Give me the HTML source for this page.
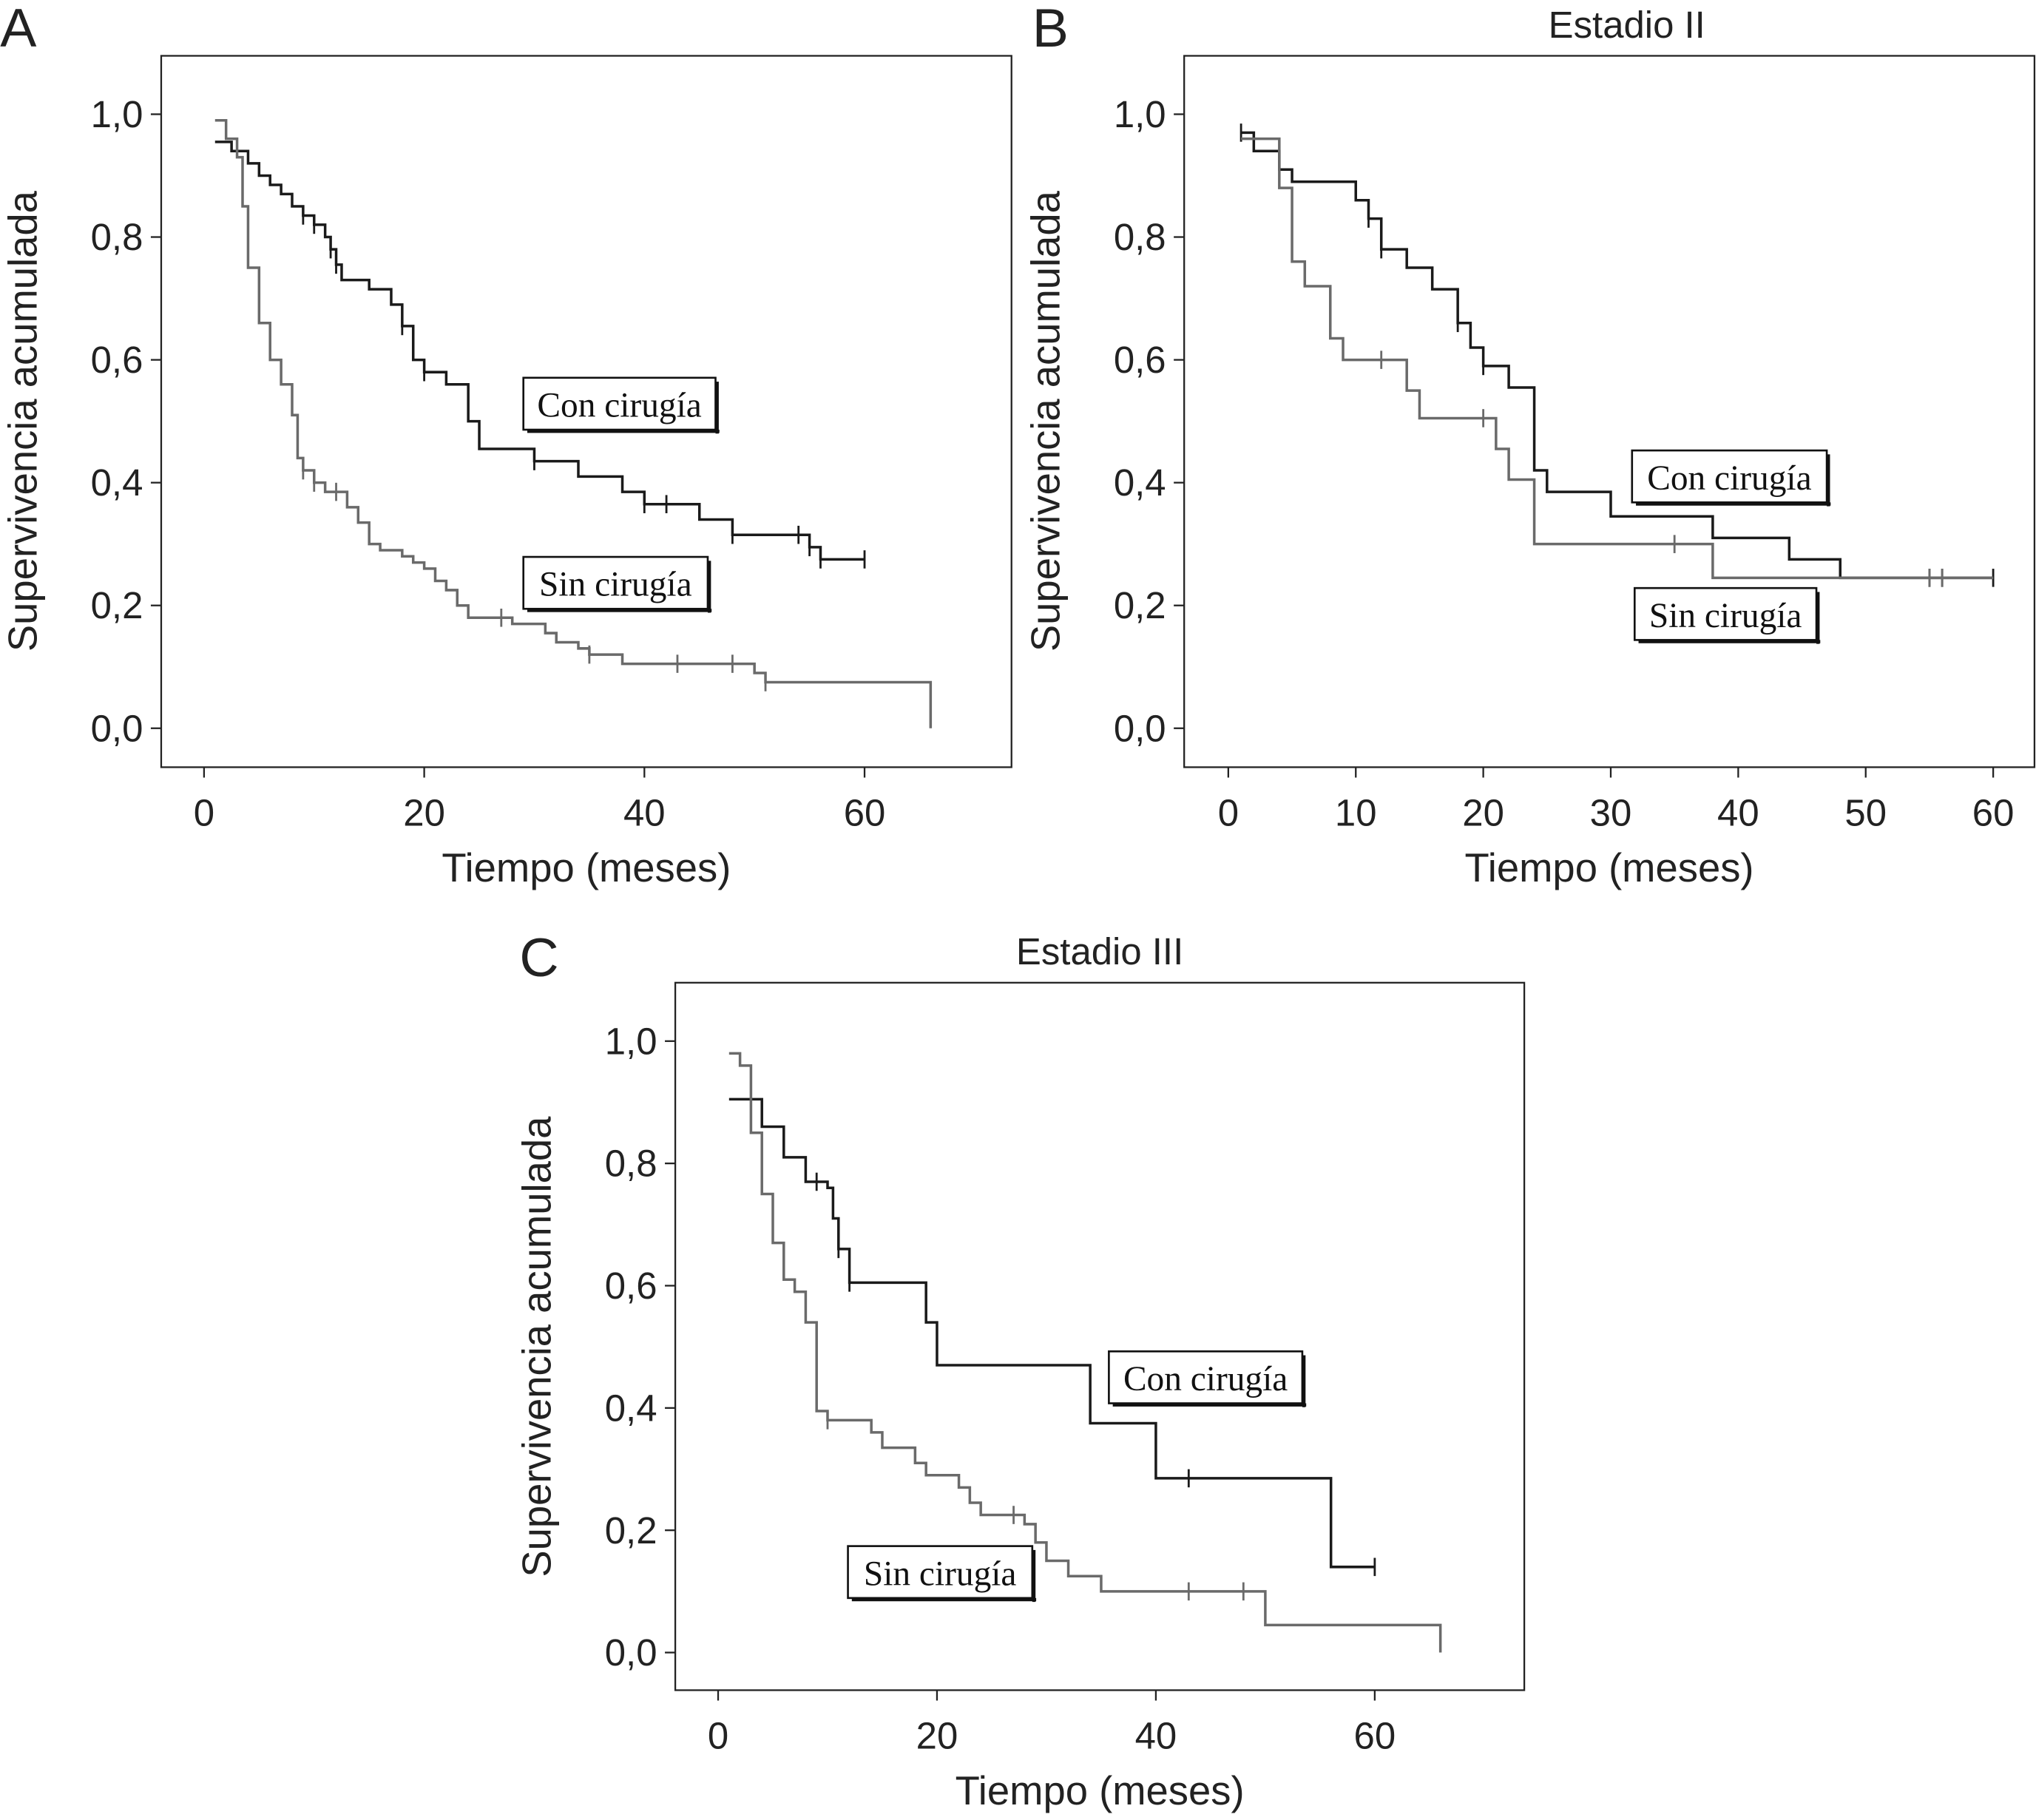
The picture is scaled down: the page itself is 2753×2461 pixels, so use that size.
<!DOCTYPE html>
<html><head><meta charset="utf-8">
<style>
html,body{margin:0;padding:0;background:#fff;}
svg{display:block;}
text{font-family:"Liberation Sans",sans-serif;}
.lbl{font-family:"Liberation Serif",serif;font-size:27px;}
</style></head>
<body>
<svg id="chart" width="2753" height="2461" viewBox="0 0 1568 1402" xmlns="http://www.w3.org/2000/svg"></svg>
<script>
// Panel A data
const aConT=[1,2.5,4,5,6,7,8,9,10,11,11.5,12,12.5,15,17,18,19,20,22,24,25,30,34,38,40,45,48,55,56];
const aConS=[0.955,0.94,0.92,0.9,0.885,0.87,0.85,0.835,0.82,0.8,0.78,0.755,0.73,0.715,0.69,0.655,0.6,0.58,0.56,0.5,0.455,0.435,0.41,0.385,0.365,0.34,0.315,0.295,0.275];
const aConEnd=60;
const aConCens=[9,10,11.5,12,18,20,30,40,42,48,54,55,56,60];
const aSinT=[1,2,3,3.5,4,5,6,7,8,8.5,9,10,11,13,14,15,16,18,19,20,21,22,23,24,28,31,32,34,35,38,50,51];
const aSinS=[0.99,0.96,0.93,0.85,0.75,0.66,0.6,0.56,0.51,0.44,0.42,0.4,0.385,0.36,0.335,0.3,0.29,0.28,0.27,0.26,0.24,0.225,0.2,0.18,0.17,0.155,0.14,0.13,0.12,0.105,0.09,0.075];
const aSinEnd=66;
const aSinCens=[9,10,12,27,35,43,48,51];
// Panel B data
const bConT=[1,2,4,5,10,11,12,14,16,18,19,20,22,24,25,30,38,44,48];
const bConS=[0.97,0.94,0.91,0.89,0.86,0.83,0.78,0.75,0.715,0.66,0.62,0.59,0.555,0.42,0.385,0.345,0.31,0.275,0.245];
const bConEnd=60;
const bConCens=[1,11,12,18,20,55,56,60];
const bSinT=[1,4,5,6,8,9,14,15,21,22,24,38];
const bSinS=[0.96,0.88,0.76,0.72,0.635,0.6,0.55,0.505,0.455,0.405,0.3,0.245];
const bSinEnd=60;
const bSinCens=[12,20,35,55,56];
// Panel C data
const cConT=[1,4,6,8,10,10.5,11,12,19,20,34,40,56];
const cConS=[0.905,0.86,0.81,0.77,0.76,0.71,0.66,0.605,0.54,0.47,0.375,0.285,0.14];
const cConEnd=60;
const cConCens=[9,11,12,43,60];
const cSinT=[1,2,3,4,5,6,7,8,9,10,14,15,18,19,22,23,24,28,29,30,32,35,50];
const cSinS=[0.98,0.96,0.85,0.75,0.67,0.61,0.59,0.54,0.395,0.38,0.36,0.335,0.31,0.29,0.27,0.245,0.225,0.21,0.18,0.15,0.125,0.1,0.045];
const cSinEnd=66;
const cSinCens=[10,27,43,48];
const yTicks=[0,0.2,0.4,0.6,0.8,1.0];
const yTickLabels=["0,0","0,2","0,4","0,6","0,8","1,0"];
const abTicks=[0,20,40,60];
const bTicks=[0,10,20,30,40,50,60];

const NS="http://www.w3.org/2000/svg";
const svg=document.getElementById('chart');
function mk(tag,attrs,parent){const e=document.createElementNS(NS,tag);for(const k in attrs)e.setAttribute(k,attrs[k]);(parent||svg).appendChild(e);return e;}

function panel(p){
  const g=mk('g',{});
  
  
  const X=t=>p.x0+(t)*p.xs, Y=s=>p.y0-s*p.ys;
  const f=mk('rect',{x:p.fx,y:p.fy,width:p.fw,height:p.fh,fill:'none',stroke:'#222','stroke-width':1.3},g);
  
  yTicks.forEach((v,i)=>{
    mk('line',{x1:p.fx-8,x2:p.fx,y1:Y(v),y2:Y(v),stroke:'#222','stroke-width':1.3},g);
    const t=mk('text',{x:p.fx-14,y:Y(v)+10,'text-anchor':'end','font-size':29,fill:'#222'},g);
    t.textContent=yTickLabels[i];
    
  });
  p.xticks.forEach(v=>{
    mk('line',{x1:X(v),x2:X(v),y1:p.fy+p.fh,y2:p.fy+p.fh+8,stroke:'#222','stroke-width':1.3},g);
    const t=mk('text',{x:X(v),y:p.fy+p.fh+45,'text-anchor':'middle','font-size':29,fill:'#222'},g);
    t.textContent=v;
    
  });
  const xt=mk('text',{x:p.fx+p.fw/2,y:p.fy+p.fh+88,'text-anchor':'middle','font-size':31,fill:'#222'},g);
  xt.textContent='Tiempo (meses)';
  const cy=p.fy+p.fh/2-p.fh*0.08;
  const yt=mk('text',{x:0,y:0,'text-anchor':'middle','font-size':31,fill:'#222',transform:`translate(${p.fx-96},${Y(0.5)}) rotate(-90)`},g);
  yt.textContent='Supervivencia acumulada';
  if(p.title){const tt=mk('text',{x:p.titleX,y:p.fy-14,'text-anchor':'middle','font-size':29,fill:'#222'},g);tt.textContent=p.title;}
  const L=mk('text',{x:p.letterX,y:p.letterY,'font-size':42,fill:'#222'},g);L.textContent=p.letter;
  p.series.forEach(s=>{
    let d=`M${X(s.T[0])},${Y(s.S[0])}`;
    for(let i=1;i<s.T.length;i++){d+=`H${X(s.T[i])}V${Y(s.S[i])}`;}
    d+=`H${X(s.end)}`;
    if(s.drop)d+=`V${Y(0)}`;
    const pa=mk('path',{d,fill:'none',stroke:s.color,'stroke-width':2},g);
    
    s.cens.forEach(c=>{
      let v=s.S[0];for(let i=0;i<s.T.length;i++){if(s.T[i]<=c)v=s.S[i];}
      const m=mk('line',{x1:X(c),x2:X(c),y1:Y(v)-7,y2:Y(v)+7,stroke:s.color,'stroke-width':1.6},g);
      
    });
    const lb=mk('g',{},g);
    mk('rect',{x:s.lx,y:s.ly,width:s.lw,height:40,fill:'#fff',stroke:'#111','stroke-width':1.5},lb);
    mk('rect',{x:s.lx+s.lw,y:s.ly+3,width:2.5,height:40,fill:'#111'},lb);
    mk('rect',{x:s.lx+3,y:s.ly+40,width:s.lw,height:2.5,fill:'#111'},lb);
    const tx=mk('text',{x:s.lx+s.lw/2,y:s.ly+30,'text-anchor':'middle',class:'lbl',fill:'#111'},lb);
    tx.textContent=s.label;
  });
}
panel({name:'panel-a',letter:'A',letterX:0,letterY:36,fx:124,fy:43,fw:655,fh:548,x0:157,xs:8.48,y0:561,ys:473,xticks:abTicks,
  series:[
   {name:'con-cirugia',color:'#1a1a1a',T:aConT,S:aConS,end:aConEnd,cens:aConCens,drop:false,label:'Con cirugía',lx:403,ly:291,lw:148},
   {name:'sin-cirugia',color:'#6a6a6a',T:aSinT,S:aSinS,end:aSinEnd,cens:aSinCens,drop:true,label:'Sin cirugía',lx:403,ly:429,lw:142}]});
panel({name:'panel-b',letter:'B',letterX:795,letterY:36,title:'Estadio II',titleX:1253,fx:912,fy:43,fw:655,fh:548,x0:946,xs:9.82,y0:561,ys:473,xticks:bTicks,
  series:[
   {name:'con-cirugia',color:'#1a1a1a',T:bConT,S:bConS,end:bConEnd,cens:bConCens,drop:false,label:'Con cirugía',lx:1257,ly:347,lw:150},
   {name:'sin-cirugia',color:'#6a6a6a',T:bSinT,S:bSinS,end:bSinEnd,cens:bSinCens,drop:false,label:'Sin cirugía',lx:1259,ly:453,lw:140}]});
panel({name:'panel-c',letter:'C',letterX:400,letterY:752,title:'Estadio III',titleX:847,fx:520,fy:757,fw:654,fh:545,x0:553,xs:8.43,y0:1273,ys:471,xticks:abTicks,
  series:[
   {name:'con-cirugia',color:'#1a1a1a',T:cConT,S:cConS,end:cConEnd,cens:cConCens,drop:false,label:'Con cirugía',lx:854,ly:1041,lw:149},
   {name:'sin-cirugia',color:'#6a6a6a',T:cSinT,S:cSinS,end:cSinEnd,cens:cSinCens,drop:true,label:'Sin cirugía',lx:653,ly:1191,lw:142}]});
</script>
</body></html>
